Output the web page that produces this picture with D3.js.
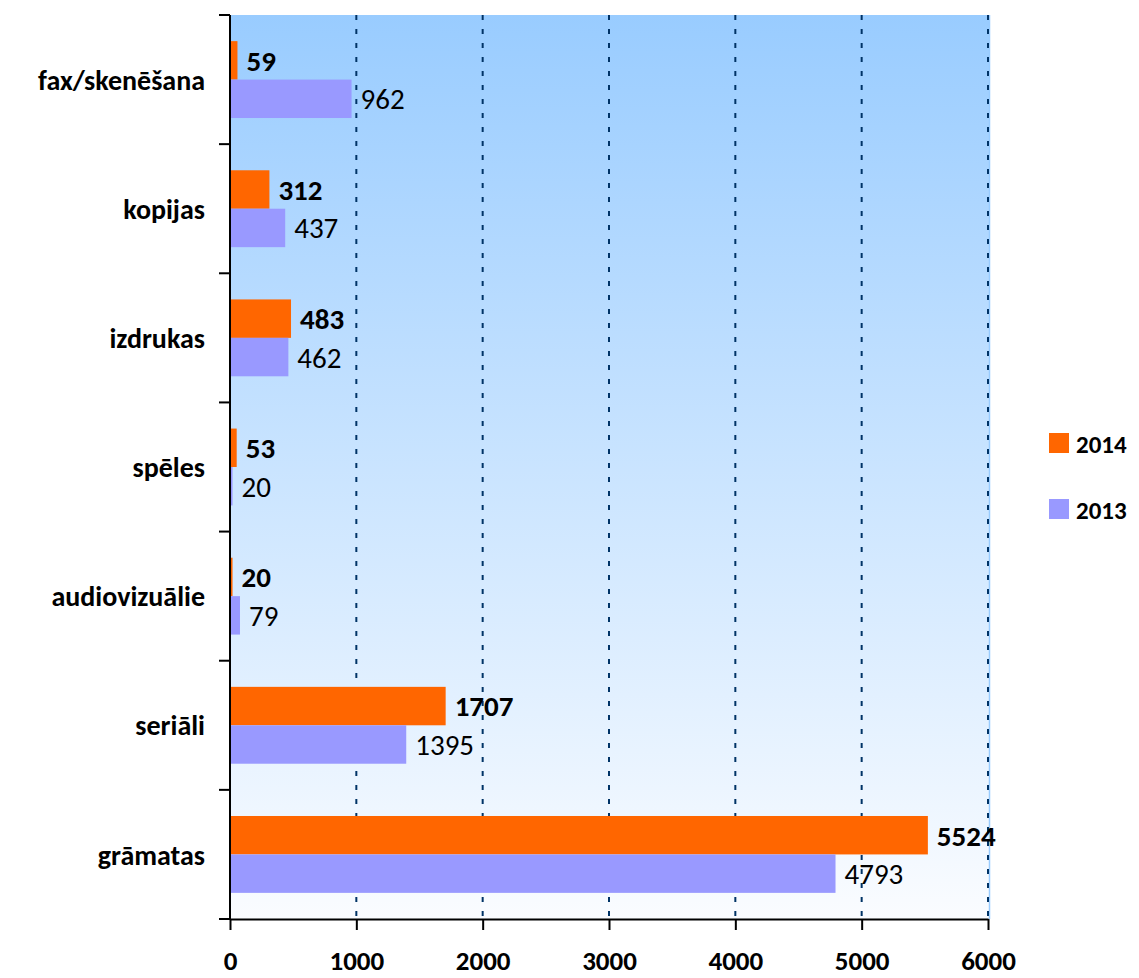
<html>
  <head>
    <meta charset="utf-8" />
    <script src="https://d3js.org/d3.v7.min.js"></script>
  </head>
  <style>
    body { margin: 0; background: #fff; }
    svg { font-family: Carlito, Calibri, Lato, sans-serif; }
  </style>
  <body>
    <div id="viz"><svg width="1139" height="978"></svg></div>
    <script>
      // data
      var categories = ["fax/skenēšana", "kopijas", "izdrukas", "spēles", "audiovizuālie", "seriāli", "grāmatas"];
      var series = ["2014", "2013"];
      var values2014 = [59, 312, 483, 53, 20, 1707, 5524];
      var values2013 = [962, 437, 462, 20, 79, 1395, 4793];
      var xTicks = [0, 1000, 2000, 3000, 4000, 5000, 6000];
      var colors = ["#FF6600", "#9999FF"];

      var svg = d3.select("svg");
      var plotLeft = 230, plotTop = 15, plotRight = 988, plotBottom = 919;

      var x = d3.scaleLinear().domain([0, 6000]).range([plotLeft, plotRight]);
      var y0 = d3.scaleBand().domain(categories).range([plotTop, plotBottom]).padding(0);
      var y1 = d3.scaleBand().domain(series).range([0, y0.bandwidth()]).paddingInner(0).paddingOuter(0.68);
      var color = d3.scaleOrdinal().domain(series).range(colors);

      // background gradient
      var grad = svg.append("defs").append("linearGradient")
        .attr("id", "bg").attr("x1", 0).attr("y1", 0).attr("x2", 0).attr("y2", 1);
      grad.append("stop").attr("offset", "0%").attr("stop-color", "#99CCFF");
      grad.append("stop").attr("offset", "100%").attr("stop-color", "#FAFCFF");

      svg.append("rect")
        .attr("x", plotLeft).attr("y", plotTop)
        .attr("width", plotRight - plotLeft + 2).attr("height", plotBottom - plotTop)
        .attr("fill", "url(#bg)");
      svg.append("line")
        .attr("x1", plotRight + 1.5).attr("x2", plotRight + 1.5)
        .attr("y1", plotTop).attr("y2", plotBottom)
        .attr("stroke", "#99CCFF").attr("stroke-width", 1.5);

      // dashed gridlines
      svg.append("g").selectAll("line")
        .data(xTicks.slice(1))
        .enter().append("line")
        .attr("x1", function (d) { return x(d); })
        .attr("x2", function (d) { return x(d); })
        .attr("y1", plotTop).attr("y2", plotBottom)
        .attr("stroke", "#003366")
        .attr("stroke-width", 2)
        .attr("stroke-dasharray", "5,9");

      // bars
      var rows = categories.map(function (c, i) {
        return { cat: c, vals: [{ s: "2014", v: values2014[i] }, { s: "2013", v: values2013[i] }] };
      });

      var groups = svg.append("g").selectAll("g")
        .data(rows)
        .enter().append("g")
        .attr("transform", function (d) { return "translate(0," + y0(d.cat) + ")"; });

      groups.selectAll("rect")
        .data(function (d) { return d.vals; })
        .enter().append("rect")
        .attr("x", x(0))
        .attr("y", function (d) { return y1(d.s); })
        .attr("width", function (d) { return x(d.v) - x(0); })
        .attr("height", y1.bandwidth())
        .attr("fill", function (d) { return color(d.s); });

      groups.selectAll("text")
        .data(function (d) { return d.vals; })
        .enter().append("text")
        .attr("x", function (d) { return x(d.v) + 9; })
        .attr("y", function (d) { return y1(d.s) + y1.bandwidth() / 2; })
        .attr("dy", "0.36em")
        .style("font-size", "29px")
        .style("font-weight", function (d) { return d.s === "2014" ? "bold" : "normal"; })
        .text(function (d) { return d.v; });

      // left axis with ticks at band edges
      var yEdges = categories.map(function (c) { return y0(c); }).concat([plotBottom]);
      var yAxis = svg.append("g");
      yAxis.append("line")
        .attr("x1", plotLeft).attr("x2", plotLeft)
        .attr("y1", plotTop).attr("y2", plotBottom + 1)
        .attr("stroke", "#000").attr("stroke-width", 2);
      yAxis.selectAll(".tk")
        .data(yEdges)
        .enter().append("line")
        .attr("x1", plotLeft - 11).attr("x2", plotLeft)
        .attr("y1", function (d) { return d; })
        .attr("y2", function (d) { return d; })
        .attr("stroke", "#000").attr("stroke-width", 2);
      yAxis.selectAll("text")
        .data(categories)
        .enter().append("text")
        .attr("x", 205)
        .attr("y", function (d) { return y0(d) + y0.bandwidth() / 2; })
        .attr("dy", "0.36em")
        .attr("text-anchor", "end")
        .style("font-size", "28px")
        .style("font-weight", "bold")
        .text(function (d) { return d; });

      // bottom axis
      var xAxis = svg.append("g")
        .attr("transform", "translate(0," + plotBottom + ")")
        .call(d3.axisBottom(x).tickValues(xTicks).tickFormat(d3.format("d"))
          .tickSize(11).tickPadding(21).tickSizeOuter(0));
      xAxis.select(".domain").attr("stroke", "#000").attr("stroke-width", 2);
      xAxis.selectAll(".tick line").attr("stroke", "#000").attr("stroke-width", 2);
      xAxis.selectAll("text")
        .attr("fill", "#000")
        .style("font-size", "27px")
        .style("font-weight", "bold")
        .style("font-family", "Carlito, Calibri, Lato, sans-serif");

      // legend
      var legend = svg.append("g").selectAll("g")
        .data(series)
        .enter().append("g")
        .attr("transform", function (d, i) { return "translate(1049," + (433 + i * 66) + ")"; });
      legend.append("rect")
        .attr("width", 20).attr("height", 20)
        .attr("fill", function (d) { return color(d); });
      legend.append("text")
        .attr("x", 27).attr("y", 20)
        .style("font-size", "25px")
        .style("font-weight", "bold")
        .text(function (d) { return d; });
    </script>
  </body>
</html>
